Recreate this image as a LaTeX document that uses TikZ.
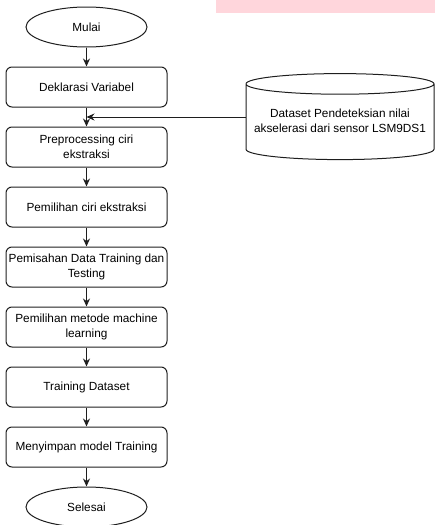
\documentclass[tikz,border=0pt]{standalone}
\usepackage{fontspec}
\setmainfont{Liberation Sans}
\usepackage{tikz}
\usetikzlibrary{shapes.geometric}
\usetikzlibrary{arrows.meta}
\usetikzlibrary{positioning}
\definecolor{marker}{RGB}{255,214,220}
\definecolor{garis}{RGB}{30,30,30}

\begin{document}
\begin{tikzpicture}[
        font=\fontsize{11.8}{14.5}\selectfont,
        proc/.style={rectangle, rounded corners=6pt, draw=garis, line width=1pt, minimum width=161pt, minimum height=40pt, align=center, inner sep=0pt},
        term/.style={ellipse, draw=garis, line width=1pt, minimum width=121pt, minimum height=40pt, inner sep=0pt},
        store/.style={cylinder, shape border rotate=90, aspect=0.12, draw=garis, line width=1pt, minimum width=188pt, minimum height=86pt, inner sep=0pt},
        flow/.style={-{Stealth[length=8pt, width=7pt]}, line width=1pt, garis}
      ]
        \useasboundingbox (0,0) rectangle (435pt,-525pt);
        \fill[marker] (216pt,0) rectangle (435pt,-13pt);

        \node[term]  (mulai)     at (86.5pt,-27pt)                            {Mulai};
        \node[proc]  (dekl)      [below of=mulai, node distance=60pt]     {Deklarasi Variabel};
        \node[proc]  (prepro)    [below of=dekl, node distance=60pt]      {Preprocessing ciri\\ekstraksi};
        \node[proc]  (pilihciri) [below of=prepro, node distance=60pt]    {Pemilihan ciri ekstraksi};
        \node[proc]  (pisah)     [below of=pilihciri, node distance=60pt] {Pemisahan Data Training dan\\Testing};
        \node[proc]  (metode)    [below of=pisah, node distance=60pt]     {Pemilihan metode machine\\learning};
        \node[proc]  (latih)     [below of=metode, node distance=60pt]    {Training Dataset};
        \node[proc]  (simpan)    [below of=latih, node distance=60pt]     {Menyimpan model Training};
        \node[term]  (selesai)   [below of=simpan, node distance=60pt]    {Selesai};

        \node[store] (data)      at (340pt,-122pt) {\raisebox{-11pt}{\begin{tabular}{@{}c@{}}Dataset Pendeteksian nilai\\akselerasi dari sensor LSM9DS1\end{tabular}}};

        \draw[flow] (mulai) -- (dekl);
        \draw[flow] (dekl) -- (prepro);
        \draw[flow] (prepro) -- (pilihciri);
        \draw[flow] (pilihciri) -- (pisah);
        \draw[flow] (pisah) -- (metode);
        \draw[flow] (metode) -- (latih);
        \draw[flow] (latih) -- (simpan);
        \draw[flow] (simpan) -- (selesai);
        \draw[flow] ([yshift=5pt]data.west) -- ([yshift=5pt]data.west -| dekl.south);
      \end{tikzpicture}
\end{document}
